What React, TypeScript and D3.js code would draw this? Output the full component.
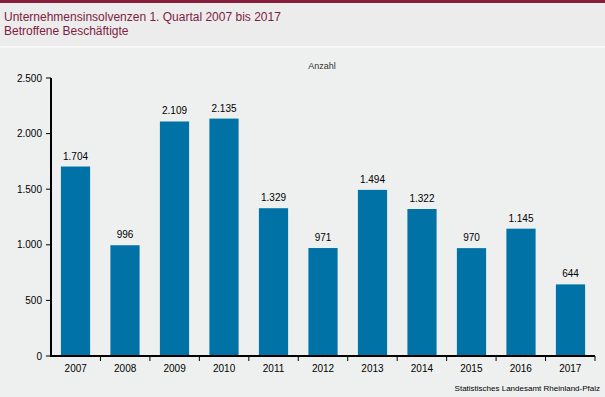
import React from "react";
import * as d3 from "d3";

const years = ["2007","2008","2009","2010","2011","2012","2013","2014","2015","2016","2017"];
const values = [1704, 996, 2109, 2135, 1329, 971, 1494, 1322, 970, 1145, 644];
const yTicks = [0, 500, 1000, 1500, 2000, 2500];

const W = 605, H = 397;
const fmt = (v: number) => d3.format(",")(v).replace(/,/g, ".");

export default function App() {
  const x = d3.scaleBand().domain(years).range([51, 595]).paddingInner(0.41).paddingOuter(0.2);
  const xb = d3.scaleBand().domain(years).range([51, 595]);
  const y = d3.scaleLinear().domain([0, 2500]).range([356, 78]);
  const font = "Liberation Sans, Arial, sans-serif";
  return (
    <svg width={W} height={H} style={{ position: "absolute", left: 0, top: 0 }} fontFamily={font}>
      <rect x={0} y={0} width={W} height={H} fill="#eef0ef" />
      <rect x={0} y={0} width={W} height={46} fill="#ececec" />
      <rect x={0} y={46} width={W} height={2} fill="#f8f8f8" />
      <rect x={0} y={0} width={W} height={3} fill="#861d3b" />
      <text x={4} y={21} fontSize={12} fill="#7e1c42">Unternehmensinsolvenzen 1. Quartal 2007 bis 2017</text>
      <text x={4} y={35} fontSize={12} fill="#7e1c42">Betroffene Beschäftigte</text>
      <text x={322} y={69} fontSize={9} fill="#333" textAnchor="middle">Anzahl</text>
      {values.map((v, i) => (
        <g key={years[i]}>
          <rect x={x(years[i])} y={y(v)} width={x.bandwidth()} height={y(0) - y(v)} fill="#0072a6" />
          <text x={x(years[i])! + x.bandwidth() / 2} y={y(v) - 7} fontSize={10} textAnchor="middle" fill="#000">{fmt(v)}</text>
        </g>
      ))}
      <line x1={51} x2={51} y1={78} y2={357} stroke="#000" strokeWidth={2} />
      <line x1={50} x2={595} y1={356} y2={356} stroke="#000" strokeWidth={2} />
      {yTicks.map(t => (
        <g key={t}>
          <line x1={46} x2={51} y1={y(t)} y2={y(t)} stroke="#000" strokeWidth={1} />
          <text x={42} y={y(t) + 3.5} fontSize={10} textAnchor="end" fill="#000">{fmt(t)}</text>
        </g>
      ))}
      {years.map(yr => (
        <g key={yr}>
          <line x1={xb(yr)! + xb.bandwidth()} x2={xb(yr)! + xb.bandwidth()} y1={356} y2={361} stroke="#000" strokeWidth={1} />
          <text x={xb(yr)! + xb.bandwidth() / 2} y={372} fontSize={10} textAnchor="middle" fill="#000">{yr}</text>
        </g>
      ))}
      <text x={600} y={391} fontSize={8} textAnchor="end" fill="#000">Statistisches Landesamt Rheinland-Pfalz</text>
    </svg>
  );
}
